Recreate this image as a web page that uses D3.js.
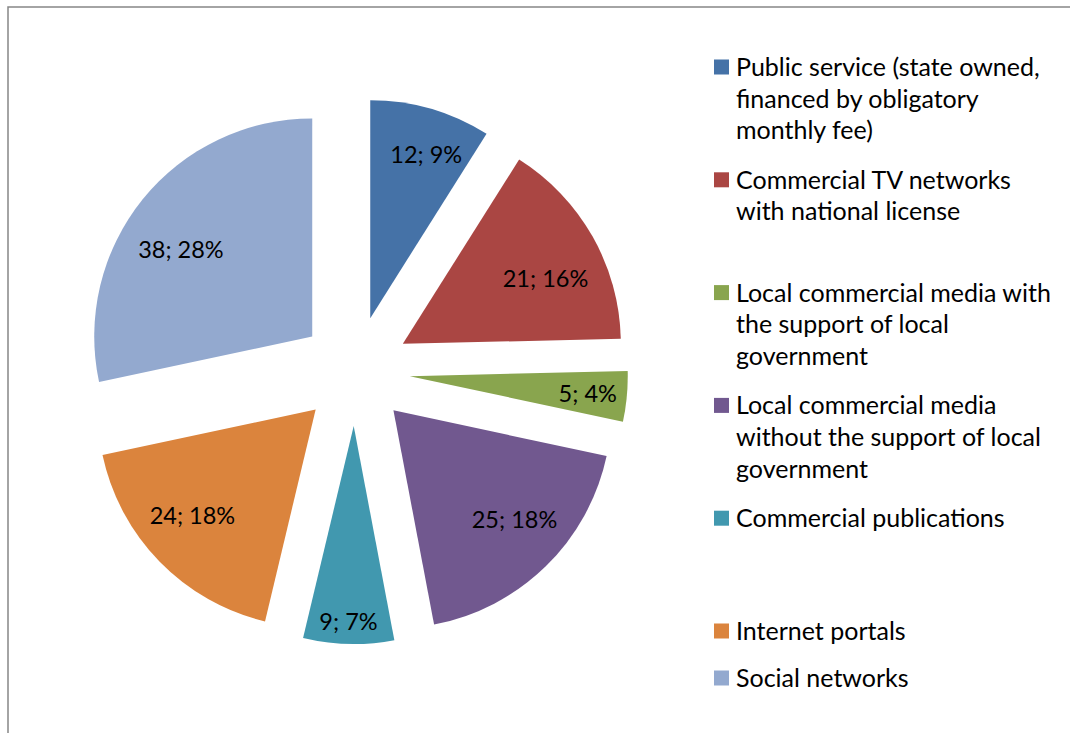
<!DOCTYPE html>
<html><head><meta charset="utf-8">
<script src="https://cdn.jsdelivr.net/npm/d3@7"></script>
<style>body{margin:0;background:#fff}svg{display:block}text{font-family:Lato,"Open Sans",sans-serif;fill:#000}</style>
</head><body>
<svg id="c" width="1070" height="733"></svg>
<script>
const categories = [
  "Public service (state owned, financed by obligatory monthly fee)",
  "Commercial TV networks with national license",
  "Local commercial media with the support of local government",
  "Local commercial media without the support of local government",
  "Commercial publications",
  "Internet portals",
  "Social networks"
];
const legendLines = [
  ["Public service (state owned,", "financed by obligatory", "monthly fee)"],
  ["Commercial TV networks", "with national license"],
  ["Local commercial media with", "the support of local", "government"],
  ["Local commercial media", "without the support of local", "government"],
  ["Commercial publications"],
  ["Internet portals"],
  ["Social networks"]
];
const values = [12, 21, 5, 25, 9, 24, 38];
const percentLabels = ["9%", "16%", "4%", "18%", "7%", "18%", "28%"];
const colors = ["#4572A7", "#AA4643", "#89A54E", "#71588F", "#4198AF", "#DB843D", "#93A9CF"];

const svg = d3.select("#c");
svg.append("rect").attr("x", 8).attr("y", 7).attr("width", 1200).attr("height", 900)
  .attr("fill", "none").attr("stroke", "#868686").attr("stroke-width", 1.5);

const cx = 355, cy = 371, r = 218, explode = 55;
const pie = d3.pie().sort(null).value(d => d)(values);
const arc = d3.arc().innerRadius(0).outerRadius(r);
const total = d3.sum(values);
const g = svg.append("g").attr("transform", `translate(${cx},${cy})`);

pie.forEach((p, i) => {
  const mid = (p.startAngle + p.endAngle) / 2;
  const ox = explode * Math.sin(mid), oy = -explode * Math.cos(mid);
  const sg = g.append("g").attr("transform", `translate(${ox},${oy})`);
  sg.append("path").attr("d", arc(p)).attr("fill", colors[i]);
  const t = sg.append("text")
    .attr("text-anchor", "middle").attr("dominant-baseline", "central")
    .attr("font-size", 23.5)
    .text(`${p.value}; ${percentLabels[i]}`);
  // place label box inside the outer end of the slice
  const w = t.node().getComputedTextLength(), h = 28;
  const frac = p.value / total;
  const R = frac < 0.08 ? 209 : 203;
  const a = mid + (4.5 * Math.PI / 180) * Math.sin(2 * mid);
  const sa = Math.abs(Math.sin(a)), ca = Math.abs(Math.cos(a));
  const b = sa * w / 2 + ca * h / 2;
  const c = (w * w + h * h) / 4 - R * R;
  const rho = -b + Math.sqrt(b * b - c);
  t.attr("x", rho * Math.sin(a)).attr("y", -rho * Math.cos(a) + 3);
});

// legend
const lg = svg.append("g");
const lineH = 31.6;
let y = 66;
legendLines.forEach((lines, i) => {
  const it = lg.append("g").attr("transform", `translate(0,${y})`);
  it.append("rect").attr("x", 714).attr("y", -6.5).attr("width", 15).attr("height", 15).attr("fill", colors[i]);
  lines.forEach((ln, j) => {
    it.append("text").attr("x", 736).attr("y", j * lineH)
      .attr("dominant-baseline", "central").attr("font-size", 25).text(ln);
  });
  y += (i < 5) ? 112.8 : 47;
});
</script>
</body></html>
